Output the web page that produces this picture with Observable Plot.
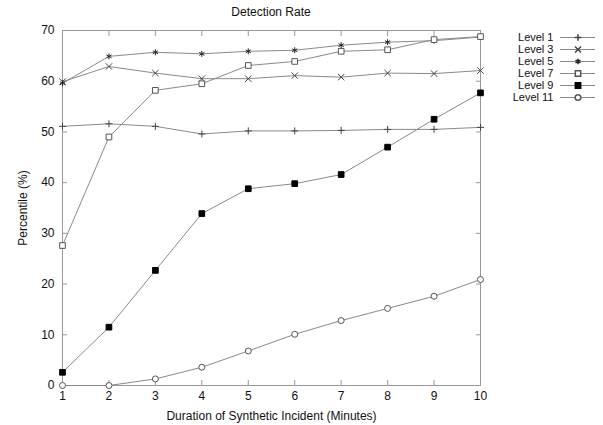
<!DOCTYPE html>
<html>
<head>
<meta charset="utf-8">
<script src="https://cdn.jsdelivr.net/npm/d3@7"></script>
<script src="https://cdn.jsdelivr.net/npm/@observablehq/plot@0.6"></script>
<style>
  body { margin: 0; background: #fff; font-family: "Liberation Sans", Arial, sans-serif; }
  #wrap { position: relative; width: 603px; height: 425px; }
  #title { width: 542px; height: 22px; line-height: 24px; text-align: center; font-size: 12px; color: #111; }
  #legend { position: absolute; left: 490px; top: 29px; }
</style>
</head>
<body>
<div id="wrap">
  <div id="title">Detection Rate</div>
  <div id="chart"></div>
  <div id="legend"></div>
</div>
<script>
const minutes = [1, 2, 3, 4, 5, 6, 7, 8, 9, 10];
const seriesNames = ["Level 1", "Level 3", "Level 5", "Level 7", "Level 9", "Level 11"];
const level1 = [51.1, 51.6, 51.1, 49.6, 50.2, 50.2, 50.3, 50.5, 50.5, 50.9];
const level3 = [59.9, 62.9, 61.6, 60.5, 60.5, 61.1, 60.8, 61.6, 61.5, 62.1];
const level5 = [59.6, 64.9, 65.7, 65.4, 65.9, 66.1, 67.1, 67.7, 68.0, 68.7];
const level7 = [27.6, 49.0, 58.2, 59.5, 63.1, 63.9, 65.9, 66.2, 68.2, 68.8];
const level9 = [2.6, 11.5, 22.7, 33.9, 38.8, 39.8, 41.6, 47.0, 52.5, 57.7];
const level11 = [0, 0, 1.3, 3.6, 6.8, 10.1, 12.8, 15.2, 17.6, 20.9];
const yTicks = [0, 10, 20, 30, 40, 50, 60, 70];
const xTicks = minutes;

const values = [level1, level3, level5, level7, level9, level11];
const styles = {
  "Level 1":  {symbol: "plus", fill: "none", stroke: "#444", r: 2.4},
  "Level 3":  {symbol: "times", fill: "none", stroke: "#444", r: 3.0},
  "Level 5":  {symbol: "asterisk", fill: "none", stroke: "#222", r: 2.8},
  "Level 7":  {symbol: "square", fill: "white", stroke: "#555", r: 3.2},
  "Level 9":  {symbol: "square", fill: "#000", stroke: "#000", r: 3.2},
  "Level 11": {symbol: "circle", fill: "white", stroke: "#555", r: 3}
};

const data = [];
seriesNames.forEach((name, i) => {
  minutes.forEach((m, j) => data.push({series: name, minute: m, value: values[i][j]}));
});

const lineColor = "#8a8a8a";
const marks = [
  Plot.frame({stroke: "#999"}),
  Plot.axisY(yTicks, {tickSize: 0, tickPadding: 8, label: "Percentile (%)", labelAnchor: "center", labelOffset: 44, labelArrow: "none", fontSize: 12, fill: "#111"}),
  Plot.axisY(yTicks, {tickSize: -5, tickFormat: () => "", label: null, stroke: "#999"}),
  Plot.axisY(yTicks, {anchor: "right", tickSize: -5, tickFormat: () => "", label: null, stroke: "#999"}),
  Plot.axisX(xTicks, {tickSize: 0, tickPadding: 6, label: "Duration of Synthetic Incident (Minutes)", labelAnchor: "center", labelOffset: 34, labelArrow: "none", fontSize: 12, fill: "#111"}),
  Plot.axisX(xTicks, {tickSize: -5, tickFormat: () => "", label: null, stroke: "#999"}),
  Plot.axisX(xTicks, {anchor: "top", tickSize: -5, tickFormat: () => "", label: null, stroke: "#999"}),
  Plot.line(data, {x: "minute", y: "value", z: "series", stroke: lineColor, strokeWidth: 1})
];
seriesNames.forEach(name => {
  const s = styles[name];
  marks.push(Plot.dot(data.filter(d => d.series === name), {
    x: "minute", y: "value", symbol: () => s.symbol, r: s.r,
    fill: s.fill, stroke: s.stroke, strokeWidth: 1
  }));
});

const chart = Plot.plot({
  width: 603,
  height: 403,
  marginTop: 8,
  marginBottom: 40,
  marginLeft: 62,
  marginRight: 123,
  style: {fontFamily: "Liberation Sans, Arial, sans-serif", fontSize: "12px", color: "#111", background: "white"},
  x: {domain: [1, 10]},
  y: {domain: [0, 70]},
  symbol: {type: "identity"},
  marks
});
document.getElementById("chart").appendChild(chart);

// Legend drawn with Plot
const legendMarks = [
  Plot.text(seriesNames, {x: 0, y: d => d, text: d => d, textAnchor: "end", dx: -7, fontSize: 11, fill: "#111"}),
  Plot.ruleY(seriesNames, {y: d => d, x1: 0, x2: 1, stroke: lineColor})
];
seriesNames.forEach(name => {
  const s = styles[name];
  legendMarks.push(Plot.dot([name], {x: 0.5, y: d => d, symbol: () => s.symbol, r: s.r * 0.95, fill: s.fill, stroke: s.stroke}));
});
const legend = Plot.plot({
  width: 113,
  height: 76,
  marginTop: 0, marginBottom: 0, marginLeft: 70, marginRight: 8,
  style: {fontFamily: "Liberation Sans, Arial, sans-serif", fontSize: "11px", background: "transparent", overflow: "visible"},
  x: {domain: [0, 1], axis: null},
  y: {type: "point", domain: seriesNames, padding: 0.5, axis: null},
  symbol: {type: "identity"},
  marks: legendMarks
});
document.getElementById("legend").appendChild(legend);
</script>
</body>
</html>
